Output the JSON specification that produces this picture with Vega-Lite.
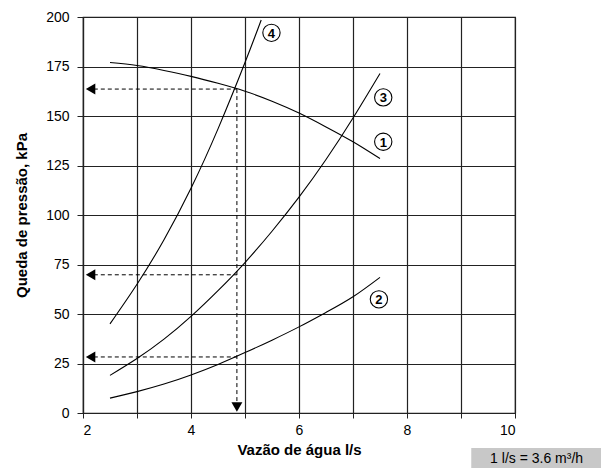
{
  "$schema": "https://vega.github.io/schema/vega-lite/v6.json",
  "autosize": {"type": "none"},
  "width": 432,
  "height": 396,
  "padding": {"left": 83, "top": 17, "right": 86, "bottom": 55},
  "background": "white",
  "config": {
    "view": {"stroke": "#222", "strokeWidth": 1.2},
    "font": "Liberation Sans"
  },
  "datasets": {
    "curves": [
      {"curve": "1", "x": 2.5, "y": 177}, {"curve": "1", "x": 3, "y": 175.5}, {"curve": "1", "x": 3.5, "y": 173}, {"curve": "1", "x": 4, "y": 170}, {"curve": "1", "x": 4.5, "y": 166.5}, {"curve": "1", "x": 5, "y": 162.5}, {"curve": "1", "x": 5.5, "y": 157.5}, {"curve": "1", "x": 6, "y": 151.5}, {"curve": "1", "x": 6.5, "y": 144.5}, {"curve": "1", "x": 7, "y": 137}, {"curve": "1", "x": 7.5, "y": 128.5},
      {"curve": "2", "x": 2.5, "y": 7.5}, {"curve": "2", "x": 3, "y": 10.8}, {"curve": "2", "x": 3.5, "y": 14.6}, {"curve": "2", "x": 4, "y": 19.2}, {"curve": "2", "x": 4.5, "y": 24.5}, {"curve": "2", "x": 5, "y": 30.5}, {"curve": "2", "x": 5.5, "y": 36.8}, {"curve": "2", "x": 6, "y": 43.5}, {"curve": "2", "x": 6.5, "y": 50.8}, {"curve": "2", "x": 7, "y": 58.7}, {"curve": "2", "x": 7.5, "y": 68.5},
      {"curve": "3", "x": 2.5, "y": 19}, {"curve": "3", "x": 3, "y": 27.5}, {"curve": "3", "x": 3.5, "y": 37.3}, {"curve": "3", "x": 4, "y": 48.8}, {"curve": "3", "x": 4.5, "y": 61.8}, {"curve": "3", "x": 5, "y": 76}, {"curve": "3", "x": 5.5, "y": 91.8}, {"curve": "3", "x": 6, "y": 109}, {"curve": "3", "x": 6.5, "y": 128}, {"curve": "3", "x": 7, "y": 149}, {"curve": "3", "x": 7.5, "y": 171.5},
      {"curve": "4", "x": 2.5, "y": 45}, {"curve": "4", "x": 3, "y": 65}, {"curve": "4", "x": 3.5, "y": 87.5}, {"curve": "4", "x": 4, "y": 113.5}, {"curve": "4", "x": 4.5, "y": 143.5}, {"curve": "4", "x": 5, "y": 177}, {"curve": "4", "x": 5.3, "y": 198.5}
    ],
    "dashes": [
      {"x": 4.85, "y": 163.6, "x2": 4.85, "y2": 5},
      {"x": 2.2, "y": 163.6, "x2": 4.85, "y2": 163.6},
      {"x": 2.2, "y": 69.8, "x2": 4.85, "y2": 69.8},
      {"x": 2.2, "y": 28.3, "x2": 4.85, "y2": 28.3}
    ],
    "arrows": [
      {"x": 2.14, "y": 163.6, "shape": "triangle-left"},
      {"x": 2.14, "y": 69.8, "shape": "triangle-left"},
      {"x": 2.14, "y": 28.3, "shape": "triangle-left"},
      {"x": 4.85, "y": 3, "shape": "triangle-down"}
    ],
    "labels": [
      {"x": 5.49, "y": 192, "label": "4"},
      {"x": 7.56, "y": 159.4, "label": "3"},
      {"x": 7.56, "y": 137, "label": "1"},
      {"x": 7.48, "y": 57.4, "label": "2"}
    ],
    "note": [
      {"x": 9.19, "x2": 11.6, "y": -17.7, "y2": -28, "xt": 10.4, "yt": -23, "text": "1 l/s = 3.6 m³/h"}
    ]
  },
  "layer": [
    {
      "data": {"name": "curves"},
      "mark": {"type": "line", "color": "black", "strokeWidth": 1.1, "interpolate": "natural"},
      "encoding": {
        "x": {
          "field": "x", "type": "quantitative",
          "scale": {"domain": [2, 10], "nice": false, "zero": false},
          "axis": {
            "title": "Vazão de água l/s",
            "values": [2, 3, 4, 5, 6, 7, 8, 9, 10],
            "labelExpr": "datum.value % 2 == 0 ? datum.label : ''",
            "grid": true, "gridColor": "#222", "gridWidth": 1.2, "gridOpacity": 1,
            "domain": true, "domainColor": "#222", "domainWidth": 1.2,
            "ticks": true, "tickColor": "#222", "tickSize": 5,
            "labelFont": "Liberation Sans", "labelFontSize": 14, "labelColor": "black", "labelPadding": 5,
            "titleFont": "Liberation Sans", "titleFontSize": 15, "titleFontWeight": "bold", "titleColor": "black", "titlePadding": 5
          }
        },
        "y": {
          "field": "y", "type": "quantitative",
          "scale": {"domain": [0, 200], "nice": false},
          "axis": {
            "title": "Queda de pressão, kPa",
            "values": [0, 25, 50, 75, 100, 125, 150, 175, 200],
            "grid": true, "gridColor": "#222", "gridWidth": 1.2, "gridOpacity": 1,
            "domain": true, "domainColor": "#222", "domainWidth": 1.2,
            "ticks": true, "tickColor": "#222", "tickSize": 6,
            "labelFont": "Liberation Sans", "labelFontSize": 14, "labelColor": "black", "labelPadding": 8,
            "titleFont": "Liberation Sans", "titleFontSize": 15, "titleFontWeight": "bold", "titleColor": "black", "titlePadding": 16
          }
        },
        "detail": {"field": "curve"}
      }
    },
    {
      "data": {"name": "dashes"},
      "mark": {"type": "rule", "color": "black", "strokeWidth": 1, "strokeDash": [4, 3]},
      "encoding": {
        "x": {"field": "x", "type": "quantitative"},
        "y": {"field": "y", "type": "quantitative"},
        "x2": {"field": "x2"},
        "y2": {"field": "y2"}
      }
    },
    {
      "data": {"name": "arrows"},
      "mark": {"type": "point", "filled": true, "color": "black", "opacity": 1, "size": 120},
      "encoding": {
        "x": {"field": "x", "type": "quantitative"},
        "y": {"field": "y", "type": "quantitative"},
        "shape": {"field": "shape", "type": "nominal", "scale": null, "legend": null}
      }
    },
    {
      "data": {"name": "labels"},
      "mark": {"type": "point", "shape": "circle", "filled": false, "fill": "white", "fillOpacity": 1, "stroke": "black", "strokeWidth": 1.1, "opacity": 1, "size": 300},
      "encoding": {
        "x": {"field": "x", "type": "quantitative"},
        "y": {"field": "y", "type": "quantitative"}
      }
    },
    {
      "data": {"name": "labels"},
      "mark": {"type": "text", "font": "Liberation Sans", "fontSize": 13, "fontWeight": "bold", "color": "black", "align": "center", "baseline": "middle", "dy": 1},
      "encoding": {
        "x": {"field": "x", "type": "quantitative"},
        "y": {"field": "y", "type": "quantitative"},
        "text": {"field": "label"}
      }
    },
    {
      "data": {"name": "note"},
      "mark": {"type": "rect", "color": "#c8c8c8", "clip": false},
      "encoding": {
        "x": {"field": "x", "type": "quantitative"},
        "x2": {"field": "x2"},
        "y": {"field": "y", "type": "quantitative"},
        "y2": {"field": "y2"}
      }
    },
    {
      "data": {"name": "note"},
      "mark": {"type": "text", "font": "Liberation Sans", "fontSize": 14, "color": "black", "align": "center", "baseline": "middle"},
      "encoding": {
        "x": {"field": "xt", "type": "quantitative"},
        "y": {"field": "yt", "type": "quantitative"},
        "text": {"field": "text"}
      }
    }
  ]
}
